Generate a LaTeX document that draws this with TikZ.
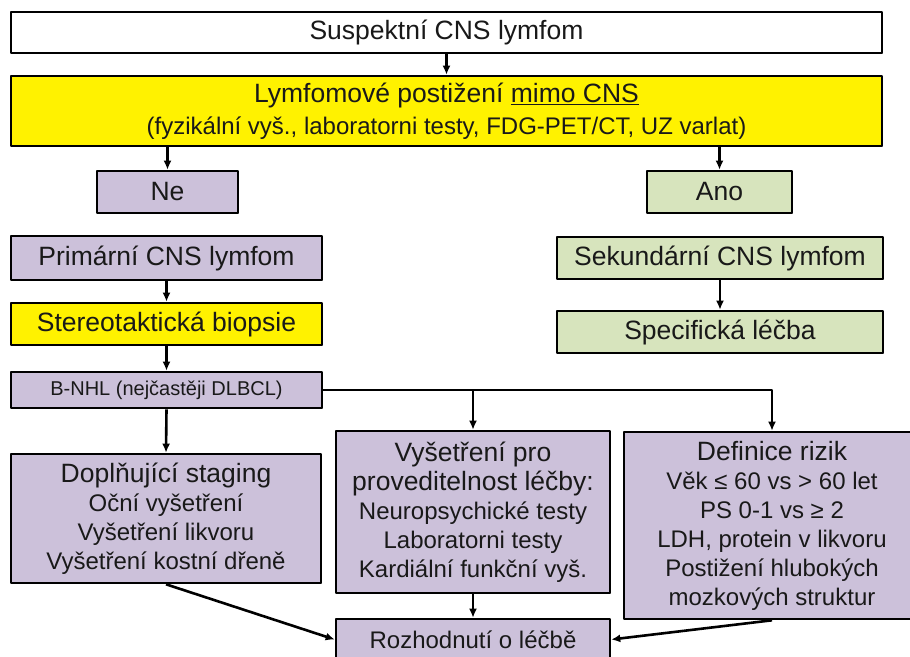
\documentclass[tikz,border=0pt]{standalone}
\usepackage{fontspec}
\setmainfont{Liberation Sans}
\usepackage{xcolor}
\usetikzlibrary{arrows.meta,shapes,shadows}
\definecolor{lavfill}{HTML}{CCC1DA}
\definecolor{greenfill}{HTML}{D7E4BD}
\newcommand{\bigfont}{\fontsize{26.5bp}{29bp}\selectfont}
\newcommand{\subfont}{\fontsize{24bp}{29bp}\selectfont}

\begin{document}
\begin{tikzpicture}[>={Latex[length=9bp,width=8bp]},line join=bevel,
  box/.style={draw=black,line width=2.6bp,inner sep=0pt,align=center,text=black!90,font=\subfont,
    drop shadow={shadow xshift=1.2bp,shadow yshift=-1.2bp,opacity=0.3,fill=black}},
  lavbox/.style={box,fill=lavfill},
  greenbox/.style={box,fill=greenfill},
  link/.style={->,line width=2.6bp}]
\useasboundingbox (0bp,0bp) rectangle (910bp,657bp);
%%
  % Node: suspekt
  \node[box,fill=white,minimum width=871bp,minimum height=41bp] (suspekt) at (446.5bp,624.5bp) {\bigfont Suspektní CNS lymfom};
  % Node: mimo
  \node[box,fill=yellow,minimum width=871bp,minimum height=70bp] (mimo) at (446.5bp,546bp)
    {\bigfont Lymfomové postižení \underline{mimo CNS}\\[3bp]
     (fyzikální vyš., laboratorni testy, FDG-PET/CT, UZ varlat)};
  % Node: ne
  \node[lavbox,minimum width=141bp,minimum height=42bp] (ne) at (167.5bp,465bp) {\bigfont Ne};
  % Node: ano
  \node[greenbox,minimum width=145bp,minimum height=42bp] (ano) at (719.5bp,465bp) {\bigfont Ano};
  % Node: primarni
  \node[lavbox,minimum width=311bp,minimum height=44bp] (primarni) at (166.5bp,399bp) {\bigfont Primární CNS lymfom};
  % Node: biopsie
  \node[box,fill=yellow,minimum width=311bp,minimum height=42bp] (biopsie) at (166.5bp,333bp) {\bigfont Stereotaktická biopsie};
  % Node: sekundarni
  \node[greenbox,minimum width=326bp,minimum height=42bp] (sekundarni) at (720bp,399bp) {\bigfont Sekundární CNS lymfom};
  % Node: lecba
  \node[greenbox,minimum width=326bp,minimum height=42bp] (lecba) at (720bp,325bp) {\bigfont Specifická léčba};
  % Node: bnhl
  \node[lavbox,minimum width=311bp,minimum height=36bp,font=\fontsize{20bp}{24bp}\selectfont] (bnhl) at (166.5bp,267bp) {B-NHL (nejčastěji DLBCL)};
  % Node: staging
  \node[lavbox,minimum width=310bp,minimum height=129bp] (staging) at (166bp,138.5bp)
    {\bigfont Doplňující staging\\ Oční vyšetření\\ Vyšetření likvoru\\ Vyšetření kostní dřeně};
  % Node: provedit
  \node[lavbox,minimum width=274bp,minimum height=162bp] (provedit) at (473bp,145bp)
    {\bigfont Vyšetření pro\\ \bigfont proveditelnost léčby:\\ Neuropsychické testy\\ Laboratorni testy\\ Kardiální funkční vyš.};
  % Node: rizika
  \node[lavbox,minimum width=296bp,minimum height=187bp] (rizika) at (772bp,131.5bp)
    {\bigfont Definice rizik\\ Věk ≤ 60 vs > 60 let\\ PS 0-1 vs ≥ 2\\ LDH, protein v likvoru\\ Postižení hlubokých\\ mozkových struktur};
  % Node: rozhodnuti
  \node[lavbox,minimum width=274bp,minimum height=41bp] (rozhodnuti) at (473bp,17.5bp) {Rozhodnutí o léčbě};
%
  % Edge: suspekt -> mimo
  \draw [link] (suspekt.south) -- (mimo.north);
  % Edge: mimo -> ne, mimo -> ano
  \draw [link] (ne.north |- mimo.south) -- (ne.north);
  \draw [link] (ano.north |- mimo.south) -- (ano.north);
  % Edge: primarni -> biopsie -> bnhl
  \draw [link] (primarni.south) -- (biopsie.north);
  \draw [link] (biopsie.south) -- (bnhl.north);
  % Edge: sekundarni -> lecba
  \draw [link] (sekundarni.south) -- (lecba.north);
  % Edge: bnhl -> staging, provedit, rizika
  \draw [link] (bnhl.south) -- (staging.north);
  \draw [link] (bnhl.east) -| (rizika.north);
  \draw [link] (provedit.north |- bnhl.east) -- (provedit.north);
  % Edge: staging, provedit, rizika -> rozhodnuti
  \draw [link] (staging.south) -- (rozhodnuti.west);
  \draw [link] (provedit.south) -- (rozhodnuti.north);
  \draw [link] (rizika.south) -- (rozhodnuti.east);
%
\end{tikzpicture}
\end{document}
